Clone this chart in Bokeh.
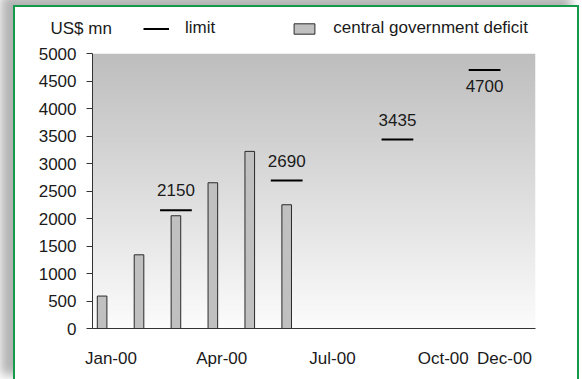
import numpy as np
from bokeh.plotting import figure
from bokeh.layouts import column
from bokeh.models import (ColumnDataSource, Range1d, FixedTicker, Legend, LegendItem, Label)
from bokeh.core.properties import value
from bokeh.embed import file_html
from bokeh.resources import INLINE

# --- data -------------------------------------------------------------
month_labels = ["Jan-00", "Feb-00", "Mar-00", "Apr-00", "May-00", "Jun-00",
                "Jul-00", "Aug-00", "Sep-00", "Oct-00", "Nov-00", "Dec-00"]
deficit_months = [0, 1, 2, 3, 4, 5]
deficit = [590, 1340, 2050, 2650, 3220, 2250]          # US$ mn, cumulative
limit_months = [2, 5, 8, 10.36]
limit = [2150, 2690, 3435, 4700]                        # US$ mn
axis_tick_pos = [0, 3, 6, 9, 10.66]
axis_tick_text = ["Jan-00", "Apr-00", "Jul-00", "Oct-00", "Dec-00"]
y_ticks = list(range(0, 5001, 500))

FONT = "Liberation Sans"
FS = "17px"
TXT = "#1a1a1a"
OFFSET = -0.24       # bars sit slightly left of the month slot centre
BAR_STYLE = dict(fill_color="#c0c0c0", line_color="#2a2a2a", line_width=1)
LIMIT_STYLE = dict(line_color="black", line_width=2)
PANEL_W = 562
HEAD_H = 36

# --- main chart -------------------------------------------------------
p = figure(width=PANEL_W, height=336, output_backend="svg", toolbar_location=None,
           x_range=Range1d(-0.5, 11.5), y_range=Range1d(0, 5000),
           min_border_left=77, min_border_right=42,
           min_border_top=10, min_border_bottom=51)
p.frame_align = False
p.background_fill_color = None
p.border_fill_color = "white"
p.outline_line_color = None
p.grid.visible = False

# vertical grey-to-white wash behind the plot area
n = 200
shade = np.linspace(252, 190, n).astype(np.uint32)
img = np.zeros((n, 1), dtype=np.uint32)
view = img.view(dtype=np.uint8).reshape((n, 1, 4))
view[:, 0, 0] = shade
view[:, 0, 1] = shade
view[:, 0, 2] = shade
view[:, 0, 3] = 255
p.image_rgba(image=[img], x=-0.5, y=0, dw=12, dh=5000, level="image")

# bars
bars_src = ColumnDataSource(dict(x=[m + OFFSET for m in deficit_months], top=deficit))
p.vbar(x="x", top="top", width=0.26, source=bars_src, **BAR_STYLE)

# limit dashes and their labels
xc = [m + OFFSET for m in limit_months]
lim_src = ColumnDataSource(dict(
    x0=[x - 0.43 for x in xc], x1=[x + 0.43 for x in xc], y=limit))
p.segment(x0="x0", y0="y", x1="x1", y1="y", source=lim_src, **LIMIT_STYLE)

txt = [str(v) for v in limit]
above = ColumnDataSource(dict(x=xc[:3], y=limit[:3], txt=txt[:3]))
below = ColumnDataSource(dict(x=xc[3:], y=limit[3:], txt=txt[3:]))
p.text(x="x", y="y", text="txt", source=above, text_align="center",
       text_baseline="alphabetic", y_offset=-20, text_font=value(FONT),
       text_font_size=FS, text_color=TXT)
p.text(x="x", y="y", text="txt", source=below, text_align="center",
       text_baseline="alphabetic", y_offset=16, text_font=value(FONT),
       text_font_size=FS, text_color=TXT)

# axes
p.yaxis.ticker = FixedTicker(ticks=y_ticks)
p.yaxis.major_tick_out = 6
p.yaxis.major_tick_in = 0
p.yaxis.major_label_standoff = 10
p.yaxis.major_tick_line_color = "#333333"
p.xaxis.ticker = FixedTicker(ticks=axis_tick_pos)
p.xaxis.major_label_overrides = {t: s for t, s in zip(axis_tick_pos, axis_tick_text)}
p.xaxis.major_tick_line_color = None
p.xaxis.major_label_standoff = 14
for ax in (p.xaxis, p.yaxis):
    ax.minor_tick_line_color = None
    ax.axis_line_color = "#333333"
    ax.major_label_text_font = FONT
    ax.major_label_text_font_size = FS
    ax.major_label_text_color = TXT

# --- legend strip above the chart (pixel coordinates) --------------------
head = figure(width=PANEL_W, height=HEAD_H, output_backend="svg", toolbar_location=None,
              x_range=Range1d(0, PANEL_W), y_range=Range1d(0, HEAD_H),
              x_axis_location=None, y_axis_location=None,
              min_border=0, min_border_left=0, min_border_right=0,
              min_border_top=0, min_border_bottom=0)
head.frame_align = False
head.background_fill_color = "white"
head.border_fill_color = "white"
head.outline_line_color = None
head.grid.visible = False
# key glyphs only: their styles feed the legend, nothing is plotted
key_limit = head.segment(x0=[np.nan], y0=[np.nan], x1=[np.nan], y1=[np.nan], **LIMIT_STYLE)
key_bar = head.vbar(x=[np.nan], top=[np.nan], width=1, **BAR_STYLE)

head.add_layout(Label(x=35, y=15, text="US$ mn", text_font=FONT, text_font_size=FS,
                      text_color=TXT, text_baseline="middle", text_align="left"))

legend = Legend(items=[LegendItem(label="limit", renderers=[key_limit]),
                       LegendItem(label="central government deficit", renderers=[key_bar])],
                orientation="horizontal", location=(128, 5),
                glyph_width=26, glyph_height=13, label_standoff=16, spacing=76,
                padding=0, margin=0, border_line_color=None,
                background_fill_alpha=0, label_text_font=FONT,
                label_text_font_size=FS, label_text_color=TXT)
head.add_layout(legend, "center")

# green panel frame with a soft grey shadow to the top-left
panel = column(head, p, spacing=0)
panel.margin = (7, 0, 0, 15)
panel.styles = {"box-shadow": "0 0 0 2px #16994a, -10px -8px 10px 4px rgba(0,0,0,0.30)",
                "background": "white"}

open("out.html", "w").write(file_html(panel, INLINE))
